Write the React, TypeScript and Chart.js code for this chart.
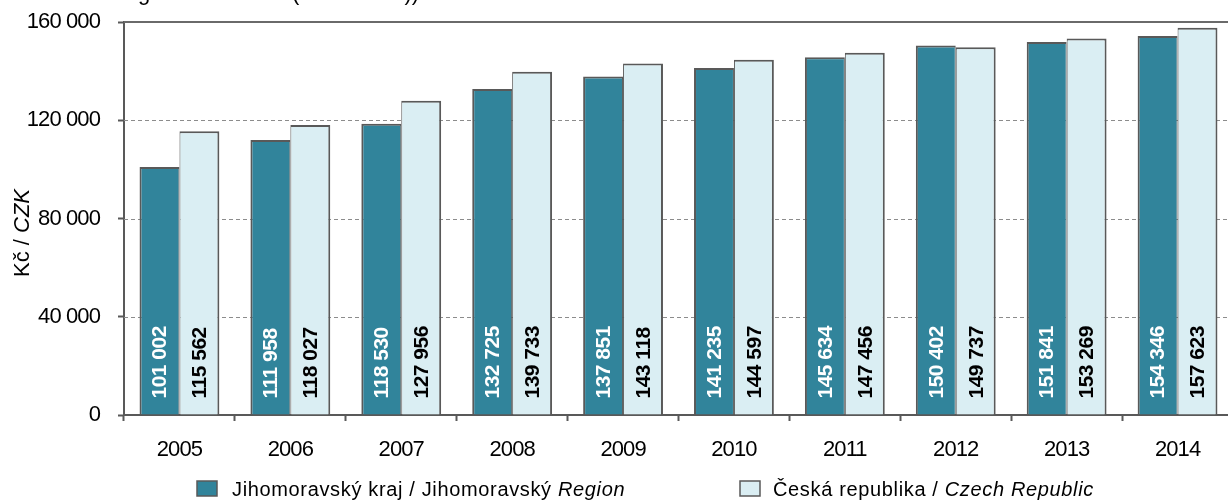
import React, { useEffect, useRef } from "react";
import { Chart, registerables } from "chart.js";

Chart.register(...registerables);

const years = ["2005", "2006", "2007", "2008", "2009", "2010", "2011", "2012", "2013", "2014"];
const regionValues = [101002, 111958, 118530, 132725, 137851, 141235, 145634, 150402, 151841, 154346];
const czValues = [115562, 118027, 127956, 139733, 143118, 144597, 147456, 149737, 153269, 157623];
const dashedGridValues = [40000, 80000, 120000];
const topGridValue = 160000;

const FONT = '"Liberation Sans", Arial, sans-serif';
const DARK = "#31849B";
const LIGHT = "#DAEEF3";
const EDGE = "#595959";

const fmt = (v: number) => {
  const s = Math.round(v).toString();
  return s.replace(/\B(?=(\d{3})+(?!\d))/g, " ");
};

const measureParts = (ctx: CanvasRenderingContext2D, parts: { t: string; italic?: boolean }[], size: number) =>
  parts.map((p) => {
    ctx.font = `${p.italic ? "italic " : ""}${size}px ${FONT}`;
    return ctx.measureText(p.t).width;
  });

const customPlugin = {
  id: "custom",
  beforeDraw(chart: any) {
    (chart.ctx as any).letterSpacing = "-0.9px";
  },
  beforeDatasetsDraw(chart: any) {
    const ctx = chart.ctx as CanvasRenderingContext2D;
    const y = chart.scales.y;
    const { left, right } = chart.chartArea;
    ctx.save();
    ctx.strokeStyle = "#8c8c8c";
    ctx.lineWidth = 1;
    ctx.setLineDash([4, 3]);
    dashedGridValues.forEach((v) => {
      const py = Math.round(y.getPixelForValue(v)) + 0.5;
      ctx.beginPath();
      ctx.moveTo(left, py);
      ctx.lineTo(right, py);
      ctx.stroke();
    });
    ctx.setLineDash([]);
    ctx.strokeStyle = "#6a6a6a";
    ctx.lineWidth = 2;
    const pt = Math.round(y.getPixelForValue(topGridValue));
    ctx.beginPath();
    ctx.moveTo(left, pt);
    ctx.lineTo(right, pt);
    ctx.stroke();
    ctx.restore();
  },
  afterDatasetsDraw(chart: any) {
    const ctx = chart.ctx as CanvasRenderingContext2D;
    ctx.save();
    (ctx as any).letterSpacing = "-0.5px";
    chart.data.datasets.forEach((ds: any, di: number) => {
      const meta = chart.getDatasetMeta(di);
      meta.data.forEach((bar: any, i: number) => {
        const { x, base } = bar.getProps(["x", "base"], true);
        ctx.save();
        ctx.translate(x, base - 16);
        ctx.rotate(-Math.PI / 2);
        ctx.textAlign = "left";
        ctx.textBaseline = "middle";
        ctx.fillStyle = di === 0 ? "#ffffff" : "#000000";
        ctx.font = `bold 21px ${FONT}`;
        ctx.fillText(fmt(ds.data[i]), 0, 1);
        ctx.restore();
      });
    });
    ctx.restore();
  },
  afterDraw(chart: any) {
    const ctx = chart.ctx as CanvasRenderingContext2D;
    ctx.save();
    (ctx as any).letterSpacing = "0px";
    ctx.fillStyle = "#000";
    ctx.textBaseline = "alphabetic";

    // cut-off heading at the very top
    ctx.font = `22px ${FONT}`;
    const head1 = "Total earnings of the whole ";
    const head2 = "(v Kč / CZK))";
    const w1 = ctx.measureText(head1).width;
    ctx.fillText(head1 + head2, 292 - w1, 0);

    // y axis title
    const tParts = [{ t: "Kč / " }, { t: "CZK", italic: true }];
    const tw = measureParts(ctx, tParts, 22);
    const total = tw.reduce((a, b) => a + b, 0);
    ctx.save();
    ctx.translate(29, 233);
    ctx.rotate(-Math.PI / 2);
    let cx = -total / 2;
    tParts.forEach((p, i) => {
      ctx.font = `${p.italic ? "italic " : ""}22px ${FONT}`;
      ctx.fillText(p.t, cx, 0);
      cx += tw[i];
    });
    ctx.restore();

    // legend
    (ctx as any).letterSpacing = "0.65px";
    const legends = [
      { color: DARK, box: 197, text: 232, parts: [{ t: "Jihomoravský kraj / Jihomoravský " }, { t: "Region", italic: true }] },
      { color: LIGHT, box: 740, text: 773, parts: [{ t: "Česká republika / " }, { t: "Czech Republic", italic: true }] },
    ];
    legends.forEach((lg) => {
      ctx.fillStyle = lg.color;
      ctx.fillRect(lg.box, 481, 20, 15);
      ctx.strokeStyle = EDGE;
      ctx.lineWidth = 1.5;
      ctx.strokeRect(lg.box, 481, 20, 15);
      ctx.fillStyle = "#000";
      const ws = measureParts(ctx, lg.parts, 20);
      let lx = lg.text;
      lg.parts.forEach((p, i) => {
        ctx.font = `${p.italic ? "italic " : ""}20px ${FONT}`;
        ctx.fillText(p.t, lx, 496);
        lx += ws[i];
      });
    });
    ctx.restore();
  },
};

export default function App() {
  const ref = useRef<HTMLCanvasElement | null>(null);
  useEffect(() => {
    if (!ref.current) return;
    const chart = new Chart(ref.current, {
      type: "bar",
      data: {
        labels: years,
        datasets: [
          {
            label: "Jihomoravský kraj / Jihomoravský Region",
            data: regionValues,
            backgroundColor: DARK,
            borderColor: EDGE,
            borderWidth: { top: 2, left: 2, right: 1, bottom: 0 } as any,
            borderSkipped: false,
          },
          {
            label: "Česká republika / Czech Republic",
            data: czValues,
            backgroundColor: LIGHT,
            borderColor: EDGE,
            borderWidth: { top: 2, left: 1, right: 2, bottom: 0 } as any,
            borderSkipped: false,
          },
        ],
      },
      options: {
        responsive: false,
        animation: false,
        devicePixelRatio: 1,
        layout: { padding: { left: 0, top: 22, right: 12, bottom: 0 } },
        datasets: { bar: { categoryPercentage: 0.72, barPercentage: 1 } },
        plugins: { legend: { display: false }, tooltip: { enabled: false }, title: { display: false } },
        scales: {
          x: {
            offset: true,
            grid: { offset: true, drawOnChartArea: false, drawTicks: true, tickLength: 6, tickColor: EDGE, tickWidth: 2 },
            border: { display: true, color: EDGE, width: 2 },
            ticks: { color: "#000", font: { family: FONT, size: 22 }, padding: 16, maxRotation: 0 },
            afterFit: (s: any) => {
              s.height = 86;
              s.paddingLeft = 0;
              s.paddingRight = 0;
            },
          },
          y: {
            min: 0,
            max: 160000,
            ticks: { stepSize: 40000, color: "#000", font: { family: FONT, size: 22 }, padding: 18, callback: (v: any) => fmt(Number(v)) },
            grid: { drawOnChartArea: false, drawTicks: true, tickLength: 6, tickColor: EDGE, tickWidth: 2 },
            border: { display: true, color: EDGE, width: 2 },
            afterFit: (s: any) => {
              s.width = 124;
              s.paddingTop = 0;
              s.paddingBottom = 0;
            },
          },
        },
      },
      plugins: [customPlugin],
    });
    return () => chart.destroy();
  }, []);
  return (
    <div style={{ position: "fixed", left: 0, top: 0, width: 1228, height: 501, overflow: "hidden", background: "#fff" }}>
      <canvas ref={ref} width={1245} height={501} style={{ display: "block" }} />
    </div>
  );
}
